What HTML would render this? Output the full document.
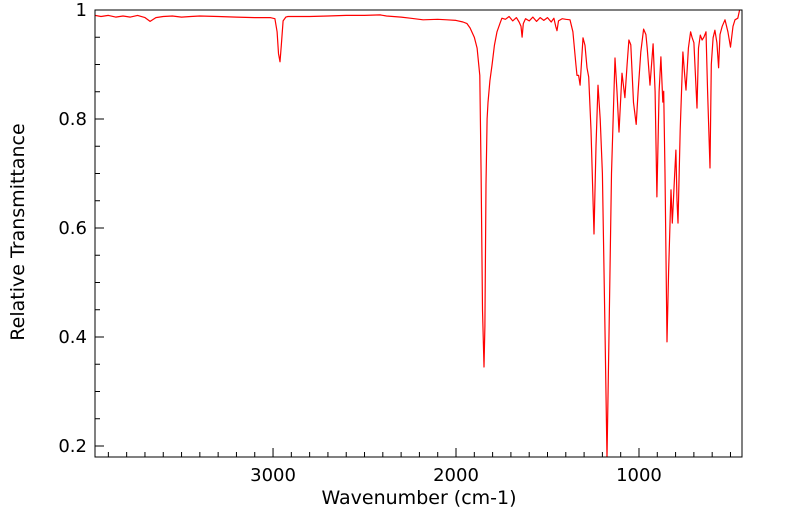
<!DOCTYPE html>
<html><head><meta charset="utf-8"><style>
body{margin:0;background:#fff;}
svg{display:block;font-family:"DejaVu Sans","Liberation Sans",sans-serif;}
</style></head><body>
<svg id="chart" width="799" height="516"></svg>
<script>
const wavenumbers=[3973,3940,3900,3860,3820,3780,3740,3700,3672,3640,3600,3550,3500,3450,3400,3300,3200,3100,3016,2990,2978,2970,2962,2955,2945,2930,2918,2800,2700,2600,2500,2415,2380,2300,2250,2180,2100,2050,2000,1962,1940,1923,1900,1885,1870,1863,1855,1847,1842,1836,1830,1825,1815,1803,1790,1776,1760,1749,1730,1710,1690,1670,1655,1645,1639,1632,1620,1600,1580,1560,1540,1520,1500,1480,1465,1455,1448,1440,1420,1400,1377,1361,1345,1339,1330,1322,1306,1295,1284,1275,1262,1246,1235,1224,1212,1200,1185,1175,1165,1150,1131,1120,1109,1093,1077,1065,1055,1045,1030,1015,1005,990,975,962,955,940,923,912,902,890,880,870,865,858,847,838,825,818,812,805,798,792,787,775,760,750,743,730,718,710,700,690,683,675,665,655,645,634,625,612,605,595,585,574,565,557,545,530,514,500,486,475,460,450,437];
const transmittance=[0.990,0.988,0.990,0.987,0.989,0.987,0.990,0.986,0.979,0.986,0.988,0.989,0.987,0.988,0.989,0.988,0.987,0.986,0.986,0.984,0.960,0.920,0.905,0.935,0.980,0.987,0.988,0.988,0.989,0.990,0.990,0.991,0.989,0.987,0.985,0.982,0.983,0.982,0.981,0.978,0.975,0.967,0.950,0.930,0.880,0.700,0.450,0.345,0.420,0.680,0.800,0.830,0.870,0.900,0.935,0.960,0.975,0.985,0.983,0.988,0.980,0.986,0.978,0.970,0.950,0.975,0.984,0.980,0.987,0.979,0.986,0.981,0.986,0.978,0.985,0.970,0.962,0.980,0.984,0.983,0.982,0.960,0.900,0.880,0.880,0.862,0.949,0.935,0.894,0.877,0.780,0.589,0.750,0.862,0.800,0.700,0.400,0.178,0.380,0.700,0.912,0.850,0.776,0.884,0.839,0.900,0.945,0.936,0.830,0.790,0.850,0.923,0.965,0.955,0.930,0.862,0.938,0.850,0.657,0.850,0.914,0.831,0.851,0.700,0.391,0.520,0.670,0.609,0.650,0.700,0.743,0.650,0.609,0.780,0.923,0.880,0.853,0.930,0.960,0.950,0.940,0.870,0.820,0.930,0.954,0.945,0.950,0.960,0.850,0.710,0.900,0.949,0.963,0.940,0.894,0.955,0.970,0.982,0.960,0.932,0.970,0.982,0.985,1.000];
const xTicks=[3000,2000,1000];
const yTicks=[1,0.8,0.6,0.4,0.2];
const yTickLabels=["1","0.8","0.6","0.4","0.2"];

const L=95,R=742,T=10,B=457;
const xMax=3973,xMin=437,yMax=1.0,yMin=0.1798;
const X=v=>L+(xMax-v)/(xMax-xMin)*(R-L);
const Y=v=>T+(yMax-v)/(yMax-yMin)*(B-T);
const svg=document.getElementById('chart');
const NS='http://www.w3.org/2000/svg';
function mk(tag,attrs,parent){const e=document.createElementNS(NS,tag);for(const k in attrs)e.setAttribute(k,attrs[k]);(parent||svg).appendChild(e);return e;}

const clip=mk('clipPath',{id:'pc'});mk('rect',{x:L,y:T,width:R-L,height:B-T},clip);

for(let v=3900;v>=500;v-=100){
  const major=v%1000===0;
  const t=mk('line',{x1:X(v),x2:X(v),y1:B,y2:B-(major?9:5),stroke:'#000','stroke-width':1});
  
  
}
xTicks.forEach(v=>{
  const t=mk('text',{x:X(v),y:481,'text-anchor':'middle','font-size':18,fill:'#000'});
  t.textContent=v;
  
  
});
for(let i=0;i<=16;i++){
  const v=1-i*0.05; if(v<yMin)break;
  const major=i%4===0;
  const t=mk('line',{x1:L,x2:L+(major?9:5),y1:Y(v),y2:Y(v),stroke:'#000','stroke-width':1});
  
  
}
yTicks.forEach((v,i)=>{
  const t=mk('text',{x:L-8,y:Y(v)+6,'text-anchor':'end','font-size':18,fill:'#000'});
  t.textContent=yTickLabels[i];
  
  
});

let d='';
wavenumbers.forEach((w,i)=>{d+=(i?'L':'M')+X(w).toFixed(1)+','+Y(transmittance[i]).toFixed(1);});
const line=mk('path',{d:d,fill:'none',stroke:'#ff0000','stroke-width':1.2,'clip-path':'url(#pc)','stroke-linejoin':'round'});



const frame=mk('rect',{x:L,y:T,width:R-L,height:B-T,fill:'none',stroke:'#000','stroke-width':1});



const xt=mk('text',{x:419,y:504,'text-anchor':'middle','font-size':19,fill:'#000'});
xt.textContent='Wavenumber (cm-1)';


const yt=mk('text',{x:0,y:0,'text-anchor':'middle','font-size':19,fill:'#000',transform:'translate(24,232) rotate(-90)'});
yt.textContent='Relative Transmittance';


</script>
</body></html>
